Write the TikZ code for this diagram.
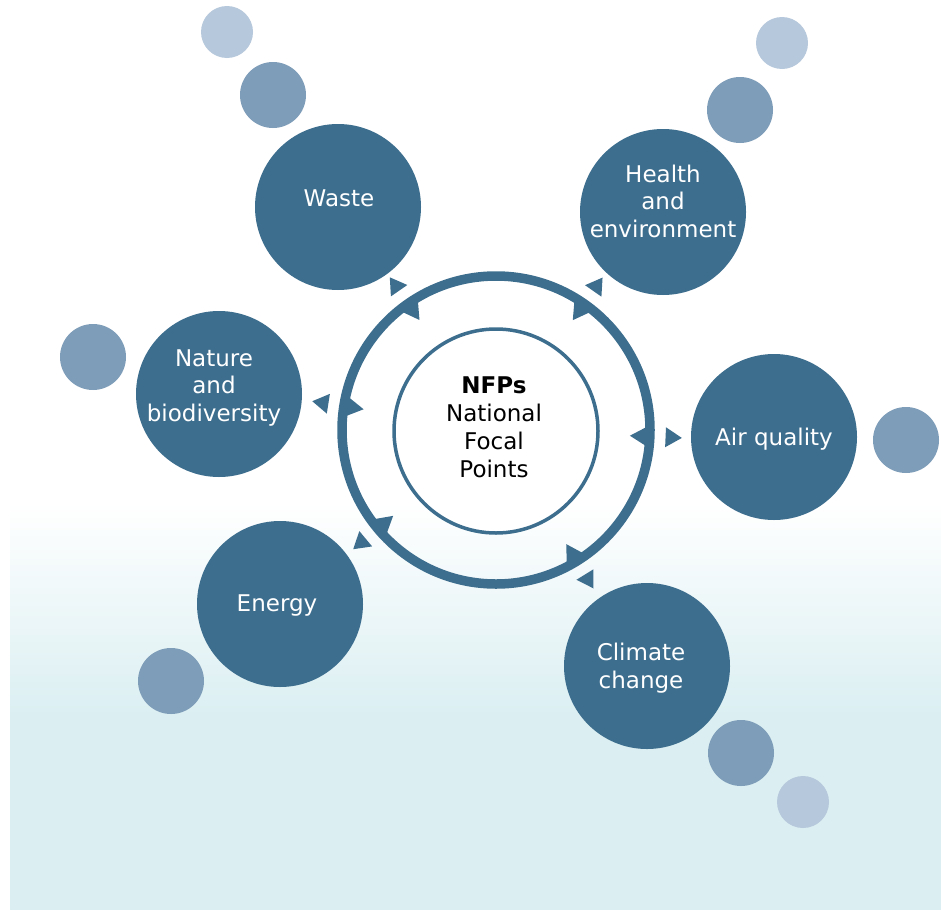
\documentclass[tikz,border=0pt]{standalone}
\usepackage{fontspec}
\setmainfont{DejaVu Sans}
\usetikzlibrary{calc}
\definecolor{dark}{HTML}{3D6E8E}
\definecolor{mid}{HTML}{7E9DB8}
\definecolor{light}{HTML}{B6C8DB}
\definecolor{bgc}{HTML}{DBEFF2}
\begin{document}
\begin{tikzpicture}[x=1pt,y=-1pt,
  topic/.style={circle, fill=dark, minimum size=166pt, inner sep=0pt},
  sat/.style={circle, fill=mid, minimum size=66pt, inner sep=0pt},
  satlight/.style={circle, fill=light, minimum size=52pt, inner sep=0pt},
  lbl/.style={text=white, align=center, font=\fontsize{23}{27.5}\selectfont, inner sep=0pt},
  tri/.style={fill=dark}]
\useasboundingbox (0,0) rectangle (941,910);
% background
\shade[top color=white, bottom color=bgc] (10,503) rectangle (941,714);
\fill[bgc] (10,713.5) rectangle (941,910);
% satellites
\node[satlight] (wl) at (227,32) {};
\node[sat] (wm) at (273,95) {};
\node[satlight] (hl) at (782,43) {};
\node[sat] (hm) at (740,110) {};
\node[sat] (nm) at (93,357) {};
\node[sat] (am) at (906,440) {};
\node[sat] (em) at (171,681) {};
\node[sat] (cm) at (741,753) {};
\node[satlight] (cl) at (803,802) {};
% topic circles
\node[topic] (waste) at (338,207) {};
\node[topic] (health) at (663,212) {};
\node[topic] (nature) at (219,394) {};
\node[topic] (air) at (774,437) {};
\node[topic] (energy) at (280,604) {};
\node[topic] (climate) at (647,666) {};
% ring and centre
\node[circle, draw=dark, line width=9.5pt, minimum size=308pt, inner sep=0pt] (ring) at (496,430) {};
\node[circle, draw=dark, line width=3.5pt, fill=white, minimum size=204pt, inner sep=0pt] (nfp) at (496,431) {};
% arrow heads
\foreach \t/\o in {waste/-0.5,health/2.5,nature/-1.5,air/-1,energy/1,climate/-1}{
  \fill[tri] ($(ring.center)!134pt!\o:(\t.center)$) -- ($(ring.center)!151.6pt!{\o+3.78}:(\t.center)$) -- ($(ring.center)!151.6pt!{\o-3.78}:(\t.center)$) -- cycle;
  \fill[tri] ($(ring.center)!186pt!\o:(\t.center)$) -- ($(ring.center)!170pt!{\o+3.37}:(\t.center)$) -- ($(ring.center)!170pt!{\o-3.37}:(\t.center)$) -- cycle;
}
% labels
\node[lbl] (wastet) at (339,198) {Waste};
\node[lbl] (healtht) at (663,201) {Health\\and\\environment};
\node[lbl] (naturet) at (214,388) {Nature\\and\\biodiversity};
\node[lbl] (airt) at (774,439) {Air quality};
\node[lbl] (energyt) at (277,605) {Energy};
\node[lbl] (climatet) at (641,668) {Climate\\change};
\node[lbl, text=black, font=\fontsize{23}{28}\selectfont] (nfpt) at (494,427) {\textbf{NFPs}\\National\\Focal\\Points};
\end{tikzpicture}
\end{document}
